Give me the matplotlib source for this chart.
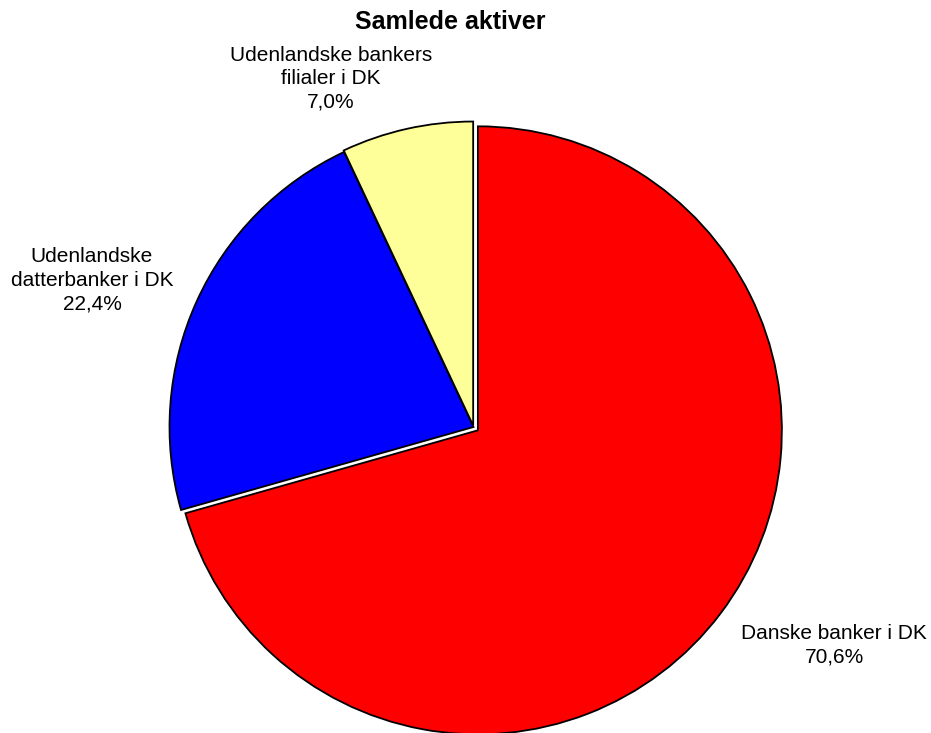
import matplotlib.pyplot as plt

# data
labels = ['Danske banker i DK', 'Udenlandske\ndatterbanker i DK', 'Udenlandske bankers\nfilialer i DK']
shares = [70.6, 22.4, 7.0]
colors = ['#FF0000', '#0000FF', '#FFFF99']
explode = [5.5, 0.0, 1.5]   # in pixels, since axes use pixel units

W, H = 931, 733
dpi = 100
fig = plt.figure(figsize=(W / dpi, H / dpi), dpi=dpi)
ax = fig.add_axes([0, 0, 1, 1])

cx, cy = 473.5, H - 427
ax.pie(shares, colors=colors, explode=explode, startangle=90, counterclock=False,
       center=(cx, cy), radius=304, frame=True,
       wedgeprops=dict(edgecolor='black', linewidth=1.3))
ax.set_xlim(0, W)
ax.set_ylim(0, H)
ax.set_aspect('equal')
ax.axis('off')

fam = ['Liberation Sans', 'DejaVu Sans']

# labels with percentage
pos = [(834, H - 645), (92, H - 280), (331, H - 79)]
for lab, val, (x, y) in zip(labels, shares, pos):
    txt = lab + '\n' + ('%.1f%%' % val).replace('.', ',')
    ax.text(x, y, txt, ha='center', va='center', fontsize=15,
            linespacing=1.3, family=fam)

ax.text(450, H - 22, 'Samlede aktiver', ha='center', va='center', fontsize=18,
        fontweight='bold', family=fam)

fig.savefig('out.png', dpi=dpi)
